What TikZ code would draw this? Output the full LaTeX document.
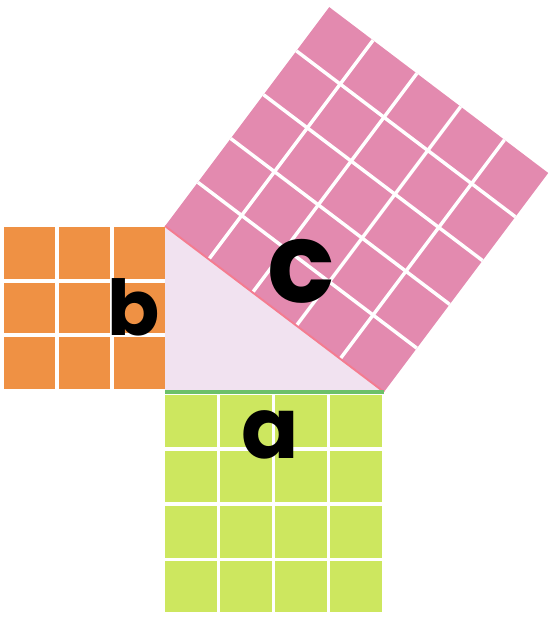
\documentclass[tikz,border=0pt]{standalone}
\usepackage{fontspec}
\setmainfont{Poppins}
\usetikzlibrary{calc}
\definecolor{orangeb}{HTML}{EF9144}
\definecolor{verta}{HTML}{CDE75F}
\definecolor{rosec}{HTML}{E38AAF}
\definecolor{fondtri}{HTML}{F1E2F0}
\definecolor{bordrose}{HTML}{F47C90}
\definecolor{bordvert}{HTML}{6CC06A}
\tikzset{grille/.style={white,line width=1.8pt},
	lettre/.style={font=\bfseries\fontsize{44}{44}\selectfont}}

\begin{document}
\begin{tikzpicture}
			          %triangle rectangle en C, cotes 3-4-5
			          \useasboundingbox (-3.014,-4.11) rectangle (7.014,7.16);
			          \coordinate (C) at (0,0);
			          \coordinate (A) at (4,0);
			          \coordinate (B) at (0,3.03);
			          \coordinate (P) at ($(B)+(3,4)$);
			          \coordinate (Q) at ($(A)+(3,4)$);
			          %carre b
			          \fill[orangeb] (-2.95,0.05) rectangle (0,3.02);
			          \foreach \i in {1,2} {
			          	\draw[grille] (-\i+0.03,0.05) -- (-\i+0.03,3.02);
			          	\draw[grille] (-2.95,0.05+\i*0.99) -- (0,0.05+\i*0.99);
			          }
			          %carre a
			          \fill[verta] (0,-0.05) rectangle (3.96,-4.02);
			          \foreach \i in {1,2,3} {
			          	\draw[grille] (\i*1.005-0.03,-0.05) -- (\i*1.005-0.03,-4.02);
			          	\draw[grille] (0,-0.03-\i*1.01) -- (3.96,-0.03-\i*1.01);
			          }
			          %carre c
			          \fill[rosec] (B) -- (A) -- (Q) -- (P) -- cycle;
			          \foreach \i in {1,...,4} {
			          	\draw[grille] ($(B)!\i/5!(A)$) -- ($(P)!\i/5!(Q)$);
			          	\draw[grille] ($(B)!\i/5!(P)$) -- ($(A)!\i/5!(Q)$);
			          }
			          \fill[fondtri] (C) -- (A) -- (B) -- cycle;
			          \draw[bordrose,line width=1pt] (B) -- (A);
			          \draw[bordvert,line width=1.6pt] (C) -- (A);
			          \node[lettre,font=\bfseries\fontsize{40}{40}\selectfont] (lb) at (-0.57,1.55) {b};
			          \node[lettre,font=\bfseries\fontsize{58}{58}\selectfont] (lc) at (2.48,2.2) {c};
			          \node[lettre] (la) at (1.92,-0.78) {a};
\end{tikzpicture}
\end{document}
